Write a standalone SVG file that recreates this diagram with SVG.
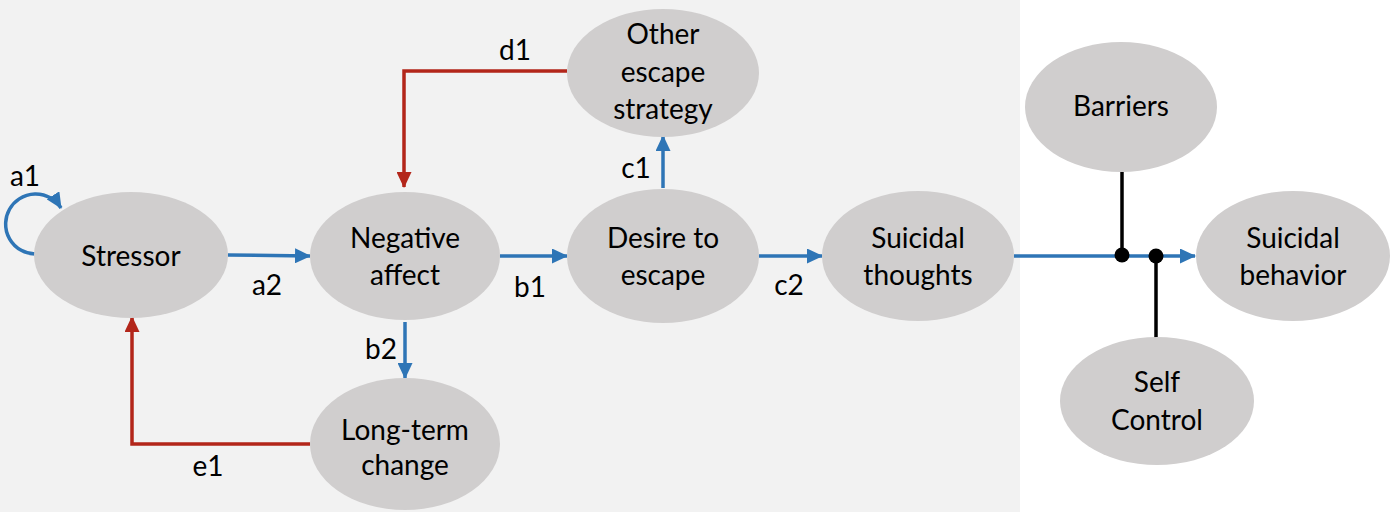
<svg xmlns="http://www.w3.org/2000/svg" width="1396" height="512" viewBox="0 0 1396 512">
<defs>
<marker id="ab" markerWidth="16" markerHeight="15" refX="15" refY="7.5" orient="auto" markerUnits="userSpaceOnUse"><path d="M0,0 L16,7.5 L0,15 Z" fill="#2e75b6"/></marker>
<marker id="ar" markerWidth="16" markerHeight="15" refX="15" refY="7.5" orient="auto" markerUnits="userSpaceOnUse"><path d="M0,0 L16,7.5 L0,15 Z" fill="#b3261a"/></marker>
</defs>
<style>
.n{fill:#d0cece}
text{font-family:Lato,"Open Sans",sans-serif;font-size:28px;fill:#000;text-anchor:middle}
.b{fill:none;stroke:#2e75b6;stroke-width:3.5}
.r{fill:none;stroke:#b3261a;stroke-width:3.5}
.k{fill:none;stroke:#000;stroke-width:3.5}
</style>
<rect x="0" y="0" width="1396" height="512" fill="#fff"/>
<rect x="0" y="0" width="1020" height="512" fill="#f2f2f2"/>
<g id="connectors">
<path class="b" d="M35,254 A30,30 0 1 1 61,208" marker-end="url(#ab)"/>
<path class="b" d="M228,255 L310,256" marker-end="url(#ab)"/>
<path class="b" d="M500,256 L567,256" marker-end="url(#ab)"/>
<path class="b" d="M759,256 L822,256" marker-end="url(#ab)"/>
<path class="b" d="M663,188 L663,136" marker-end="url(#ab)"/>
<path class="b" d="M405,322 L405,378" marker-end="url(#ab)"/>
<path class="r" d="M567,71 L404,71 L404,187" marker-end="url(#ar)"/>
<path class="r" d="M310,444 L132,444 L132,317" marker-end="url(#ar)"/>
<path class="b" d="M1014,256 L1195,256" marker-end="url(#ab)"/>
<path class="k" d="M1122,172 L1122,256"/>
<path class="k" d="M1156,256 L1156,338"/>
<circle cx="1122" cy="255" r="7.5" fill="#000"/>
<circle cx="1156" cy="256" r="7.5" fill="#000"/>
<text x="25" y="186">a1</text>
<text x="267" y="295">a2</text>
<text x="530" y="297">b1</text>
<text x="381" y="359">b2</text>
<text x="636" y="178">c1</text>
<text x="789" y="295">c2</text>
<text x="515" y="60">d1</text>
<text x="208" y="476">e1</text>
</g>
<g id="stressor"><ellipse class="n" cx="131" cy="255" rx="97" ry="63"/><text x="131" y="266">Stressor</text></g>
<g id="negative-affect"><ellipse class="n" cx="405" cy="256" rx="95" ry="64"/><text x="405" y="248">Negative</text><text x="405" y="285">affect</text></g>
<g id="desire-to-escape"><ellipse class="n" cx="663" cy="256" rx="96" ry="67"/><text x="663" y="248">Desire to</text><text x="663" y="285">escape</text></g>
<g id="suicidal-thoughts"><ellipse class="n" cx="918" cy="256" rx="96" ry="65"/><text x="918" y="248">Suicidal</text><text x="918" y="285">thoughts</text></g>
<g id="other-escape-strategy"><ellipse class="n" cx="663" cy="73" rx="96" ry="64"/><text x="663" y="44">Other</text><text x="663" y="82">escape</text><text x="663" y="119">strategy</text></g>
<g id="long-term-change"><ellipse class="n" cx="405" cy="444" rx="95" ry="66"/><text x="405" y="440">Long-term</text><text x="405" y="475">change</text></g>
<g id="barriers"><ellipse class="n" cx="1121" cy="107" rx="96" ry="65"/><text x="1121" y="116">Barriers</text></g>
<g id="suicidal-behavior"><ellipse class="n" cx="1293" cy="256" rx="97" ry="65"/><text x="1293" y="248">Suicidal</text><text x="1293" y="285">behavior</text></g>
<g id="self-control"><ellipse class="n" cx="1157" cy="401" rx="97" ry="64"/><text x="1157" y="392">Self</text><text x="1157" y="430">Control</text></g>
</svg>
